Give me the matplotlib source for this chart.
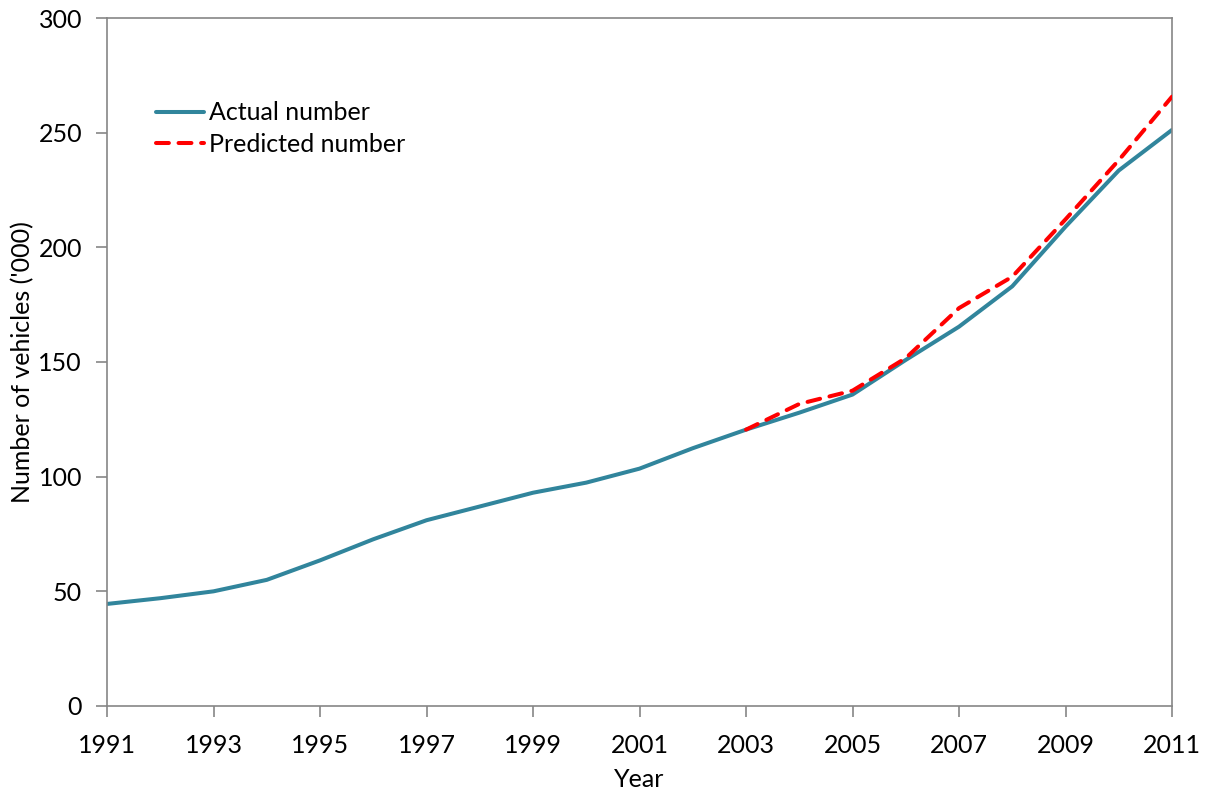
import matplotlib
matplotlib.use('Agg')
import matplotlib.pyplot as plt

plt.rcParams['font.family'] = ['Lato', 'DejaVu Sans']

years = list(range(1991, 2012))
actual = [44.5, 47, 50, 55, 63.5, 72.7, 81, 87, 93, 97.4, 103.5, 112.4, 120.5,
          127.9, 135.8, 150.9, 165.4, 183, 209, 233.5, 251.2]
pred_years = list(range(2003, 2012))
predicted = [120.5, 131.7, 137.5, 151.7, 173.5, 187.2, 212.2, 238, 265.7]

x_ticks = list(range(1991, 2012, 2))
y_ticks = [0, 50, 100, 150, 200, 250, 300]

fig = plt.figure(figsize=(12.07, 7.97), dpi=100)
ax = fig.add_axes([0.0887, 0.1142, 0.8823, 0.8632])

ax.plot(years, actual, color='#31859C', lw=2.9, label='Actual number',
        solid_capstyle='round', zorder=2)
ax.plot(pred_years, predicted, color='#FF0000', lw=2.9, ls=(0, (3.2, 2.4)),
        label='Predicted number', dash_capstyle='round', zorder=3)

ax.set_xlim(1991, 2011)
ax.set_ylim(0, 300)
ax.set_xticks(x_ticks)
ax.set_yticks(y_ticks)
ax.tick_params(axis='both', direction='out', length=8, width=1.2, color='#868686',
               labelsize=18)
ax.tick_params(axis='x', pad=12)
ax.tick_params(axis='y', pad=10)
for s in ax.spines.values():
    s.set_color('#868686')
    s.set_linewidth(1.2)

ax.set_xlabel('Year', fontsize=18, labelpad=8)
ax.set_ylabel("Number of vehicles ('000)", fontsize=18, labelpad=3)

ax.legend(loc='upper left', bbox_to_anchor=(0.046, 0.879), frameon=False,
          fontsize=18, handlelength=1.9, handletextpad=0.2, borderpad=0,
          borderaxespad=0, labelspacing=0.35)

fig.savefig('out.png', dpi=100)
